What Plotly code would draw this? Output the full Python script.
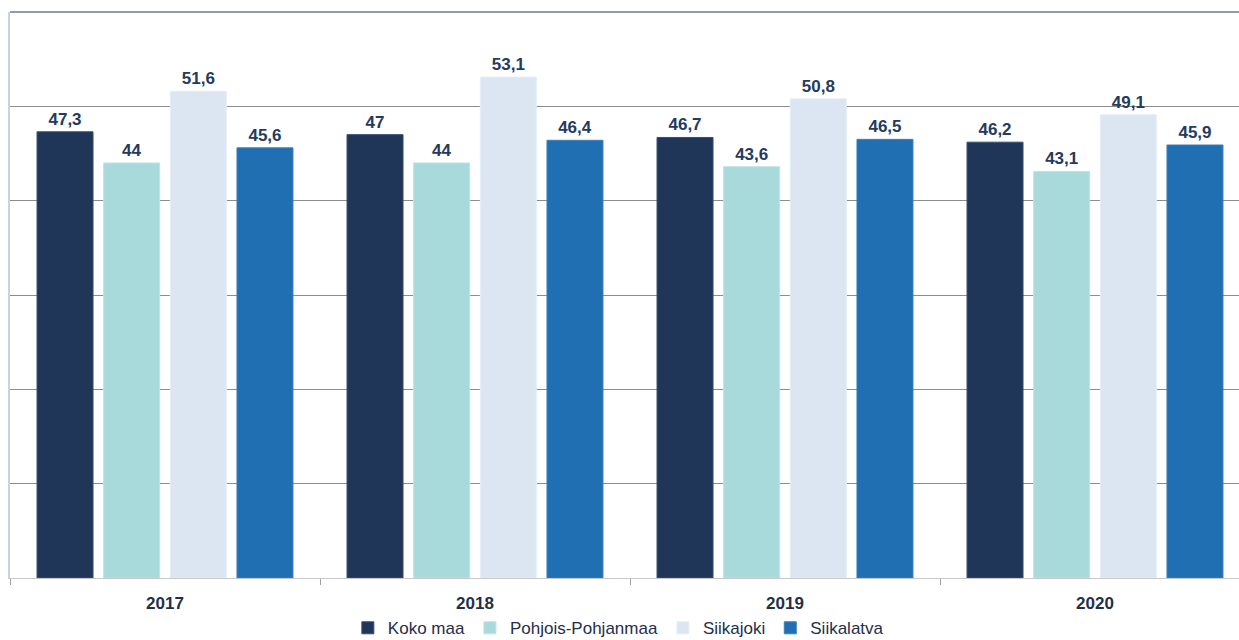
import plotly.graph_objects as go

years = ['2017', '2018', '2019', '2020']
series_names = ['Koko maa', 'Pohjois-Pohjanmaa', 'Siikajoki', 'Siikalatva']
koko_maa = [47.3, 47, 46.7, 46.2]
pohjois_pohjanmaa = [44, 44, 43.6, 43.1]
siikajoki = [51.6, 53.1, 50.8, 49.1]
siikalatva = [45.6, 46.4, 46.5, 45.9]

colors = ['#1F3658', '#A8DADB', '#DCE6F2', '#1F6FB2']
edges = ['#3a4e6e', '#bfe3e3', '#e6edf6', '#3c7fb8']


def fmt(v):
    # finnish decimal comma
    return ('%g' % v).replace('.', ',')


fig = go.Figure()
for name, vals, col, edge in zip(series_names,
                                 [koko_maa, pohjois_pohjanmaa, siikajoki, siikalatva],
                                 colors, edges):
    fig.add_trace(go.Bar(
        x=years, y=vals, name=name,
        marker=dict(color=col, line=dict(color=edge, width=1)),
        text=[fmt(v) for v in vals],
        textposition='outside',
        cliponaxis=False,
        textfont=dict(family='Liberation Sans, Arial', size=17, color='#243A5E', weight='bold'),
    ))

fig.update_layout(
    width=1239, height=640,
    barmode='group',
    bargap=0.14,
    bargroupgap=0.16,
    plot_bgcolor='white',
    paper_bgcolor='white',
    margin=dict(l=10, r=0, t=12, b=62, autoexpand=False),
    font=dict(family='Liberation Sans, Arial', color='#1F2F4A'),
    showlegend=True,
    legend=dict(orientation='h', x=0.495, xanchor='center', y=-0.057, yanchor='top',
                font=dict(size=17, color='#1F2F4A'), itemwidth=30,
                traceorder='normal'),
)

fig.update_xaxes(
    range=[-0.5, 3.5 - 11 / 310],
    showline=True, linecolor='#C8C8C8', linewidth=1,
    ticks='outside', tickson='boundaries', ticklen=6, tickcolor='#A0A0A0',
    tickfont=dict(size=17, color='#1F2F4A', weight='bold'),
    ticklabelstandoff=10,
    showgrid=False,
)
fig.update_yaxes(
    range=[0, 60], dtick=10,
    showticklabels=False,
    showgrid=True, gridcolor='#8C8C8C', gridwidth=1,
    showline=True, linecolor='#CDD3DC', linewidth=2,
    zeroline=False,
)

# darker frame line along the top of the plot area
fig.add_shape(type='line', xref='paper', yref='paper', x0=0, x1=1, y0=1, y1=1,
              line=dict(color='#6E7B8C', width=1.5))

# drop the browser's default page margin so the figure sits at the window corner
fig.write_html("out.html",
               config={'displayModeBar': False},
               post_script="document.body.style.margin='0';document.body.style.overflow='hidden';")
